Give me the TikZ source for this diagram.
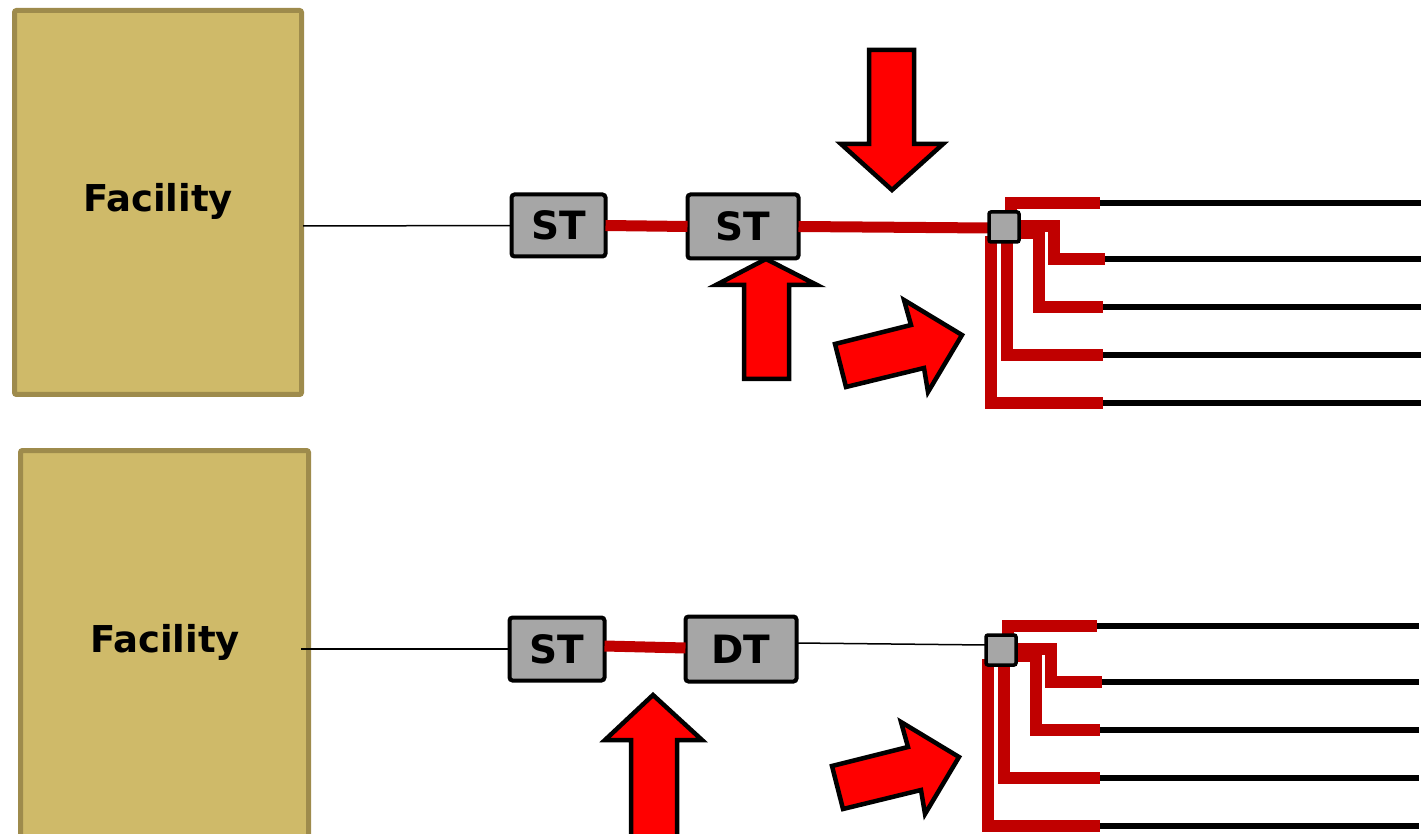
\documentclass[tikz,border=0pt]{standalone}
\usepackage{fontspec}
\setsansfont{DejaVu Sans}
\begin{document}
\begin{tikzpicture}[x=1pt,y=-1pt,
  facility/.style={draw=facborder,fill=facfill,line width=5pt,rounded corners=2pt,
    inner sep=0pt,outer sep=0pt},
  factext/.style={font=\sffamily\bfseries\fontsize{37}{40}\selectfont,inner sep=0pt,anchor=base},
  term/.style={draw=black,fill=boxgray,line width=4pt,rounded corners=3pt,inner sep=0pt,
    outer sep=0pt,font=\sffamily\bfseries\fontsize{39}{42}\selectfont},
  junction/.style={draw=black,fill=boxgray,line width=3.5pt,rounded corners=2pt,inner sep=0pt,
    outer sep=0pt,minimum size=30pt},
  thinwire/.style={black,line width=1.5pt},
  redwire/.style={wirered,line width=11pt},
  drop/.style={wirered,line width=11.5pt},
  lead/.style={black,line width=5.5pt},
  bigarrow/.style={draw=black,fill=red,line width=4.5pt,line join=miter},
]
\definecolor{facfill}{HTML}{CFBA69}
\definecolor{facborder}{HTML}{9E8B4C}
\definecolor{boxgray}{HTML}{A6A6A6}
\definecolor{wirered}{HTML}{C00000}
\useasboundingbox (0,0) rectangle (1428,834);
\clip (0,0) rectangle (1428,834);

% ---------------- upper chain ----------------
\path[facility] (14.5,10.5) rectangle (301.5,394.5);
\node[factext] (facA) at (158,212) {Facility};
\coordinate (facAout) at (303,226);

\node[term,minimum width=94pt,minimum height=62pt] (stA) at (558.5,225.5) {ST};
\draw[bigarrow] (766,259) -- (817,285) -- (789,285) -- (789,379) -- (744,379)
  -- (744,285) -- (716,285) -- cycle;
\node[term,minimum width=111pt,minimum height=64pt] (stB) at (743,226.5) {ST};

\draw[thinwire] (facAout) -- (stA.west);
\draw[redwire] (stA.east) -- (stB.west);

% down arrow above the line
\draw[bigarrow] (869,50) -- (914,50) -- (914,144) -- (943,144) -- (892,190)
  -- (841,144) -- (869,144) -- cycle;
% slanted arrow toward the junction
\draw[bigarrow] (835,344) -- (911,325) -- (904,300) -- (962,335) -- (928,392)
  -- (924,368) -- (846,387) -- cycle;

\coordinate (jApos) at (1004,227);
\coordinate (a1) at (1100,203);
\coordinate (a2) at (1105,259);
\coordinate (a3) at (1103,307);
\coordinate (a4) at (1103,355);
\coordinate (a5) at (1103,403);
\draw[redwire] (stB.east) -- (989,228);
\draw[drop] (1011,218) |- (a1);
\draw[drop] (1012,226) -| (1054,259) -- (a2);
\draw[drop] (1012,233) -| (1039,307) -- (a3);
\draw[drop] (1007,236) |- (a4);
\draw[drop] (991,236) |- (a5);
\node[junction] (jA) at (jApos) {};
\foreach \p in {a1,a2,a3,a4,a5} \draw[lead] (\p) -- (1421,0 |- \p);

% ---------------- lower chain ----------------
\path[facility] (20.5,450.5) rectangle (308.5,860);
\node[factext] (facB) at (165,652) {Facility};
\coordinate (facBout) at (301,649);

\node[term,minimum width=95pt,minimum height=63pt] (stC) at (557,649) {ST};
\node[term,minimum width=111pt,minimum height=65pt] (dt) at (741,649) {DT};
\draw[thinwire] (facBout) -- (stC.west);
\draw[redwire] ([yshift=3pt]stC.east) -- ([yshift=1pt]dt.west);

\draw[bigarrow] (653,695) -- (702,740) -- (677,740) -- (677,850) -- (631,850)
  -- (631,740) -- (605,740) -- cycle;
\draw[bigarrow] (832,766) -- (908,747) -- (901,722) -- (959,757) -- (925,814)
  -- (921,790) -- (843,809) -- cycle;

\coordinate (jBpos) at (1001,650);
\coordinate (b1) at (1097,626);
\coordinate (b2) at (1102,682);
\coordinate (b3) at (1100,730);
\coordinate (b4) at (1100,778);
\coordinate (b5) at (1100,826);
\draw[drop] (1008,641) |- (b1);
\draw[drop] (1009,649) -| (1051,682) -- (b2);
\draw[drop] (1009,656) -| (1036,730) -- (b3);
\draw[drop] (1004,659) |- (b4);
\draw[drop] (988,659) |- (b5);
\node[junction] (jB) at (jBpos) {};
\draw[thinwire] ([yshift=6pt]dt.east) -- ([yshift=5pt]jB.west);
\foreach \p in {b1,b2,b3,b4,b5} \draw[lead] (\p) -- (1419,0 |- \p);
\end{tikzpicture}
\end{document}
